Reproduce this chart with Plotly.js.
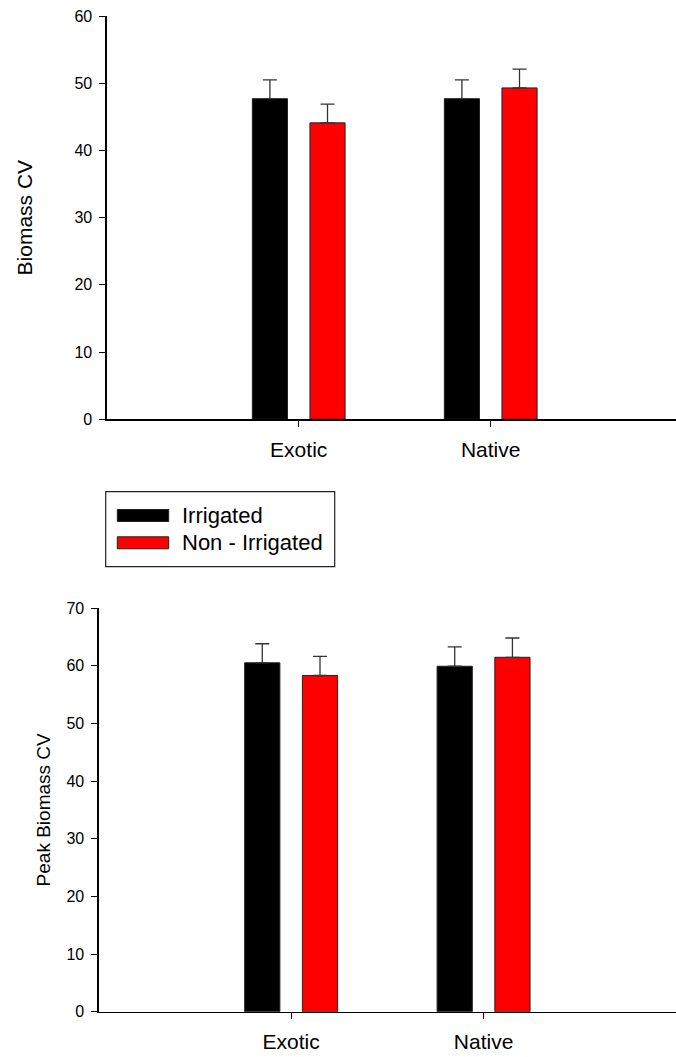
<!DOCTYPE html>
<html>
<head>
<meta charset="utf-8">
<script src="https://cdn.plot.ly/plotly-3.0.1.min.js"></script>
<style>
  html, body { margin: 0; padding: 0; background: #fff; }
  #chart { width: 676px; height: 1057px; }
</style>
</head>
<body>
<div id="chart"></div>
<script>
// ---- Data ----
const categories = ['Exotic', 'Native'];
const seriesNames = ['Irrigated', 'Non - Irrigated'];
const seriesColors = ['#000000', '#ff0000'];

// Top panel: Biomass CV
const biomassIrrigated = [47.7, 47.7];
const biomassIrrigatedErr = [2.8, 2.8];
const biomassNonIrrigated = [44.1, 49.3];
const biomassNonIrrigatedErr = [2.8, 2.8];

// Bottom panel: Peak Biomass CV
const peakIrrigated = [60.5, 59.9];
const peakIrrigatedErr = [3.3, 3.35];
const peakNonIrrigated = [58.3, 61.45];
const peakNonIrrigatedErr = [3.3, 3.35];

const yTitles = ['Biomass CV', 'Peak Biomass CV'];

// ---- Traces ----
const FONT = 'Liberation Sans, Arial, Helvetica, sans-serif';
function barTrace(name, color, y, err, xa, ya) {
  return {
    type: 'bar', name: name, x: categories, y: y,
    xaxis: xa, yaxis: ya, showlegend: false,
    marker: { color: color, line: { color: '#222', width: 1 } },
    error_y: { type: 'data', array: err, arrayminus: err.map(() => 0), symmetric: false,
               color: '#333', thickness: 1.3, width: 7 },
    hoverinfo: 'x+y+name'
  };
}

const data = [
  barTrace(seriesNames[0], seriesColors[0], biomassIrrigated, biomassIrrigatedErr, 'x', 'y'),
  barTrace(seriesNames[1], seriesColors[1], biomassNonIrrigated, biomassNonIrrigatedErr, 'x', 'y'),
  barTrace(seriesNames[0], seriesColors[0], peakIrrigated, peakIrrigatedErr, 'x2', 'y2'),
  barTrace(seriesNames[1], seriesColors[1], peakNonIrrigated, peakNonIrrigatedErr, 'x2', 'y2')
];

const W = 676, H = 1057;
const xAxisCommon = {
  type: 'category', showline: true, linecolor: '#000', linewidth: 1.3,
  ticks: 'outside', ticklen: 6, tickcolor: '#000', tickwidth: 1,
  showgrid: false, zeroline: false,
  tickfont: { family: FONT, size: 21, color: '#000' },
  ticklabelstandoff: 5
};
const yAxisCommon = {
  showline: true, linecolor: '#000', linewidth: 1.3,
  ticks: 'outside', ticklen: 6, tickcolor: '#000', tickwidth: 1,
  showgrid: false, zeroline: false, dtick: 10,
  tickfont: { family: FONT, size: 16, color: '#000' },
  ticklabelstandoff: 4
};

// ---- Legend (drawn from series names/colours) ----
const legendBox = { x0: 105.7, x1: 334.7, y0: 491.7, y1: 566.7 };
const shapes = [{
  type: 'rect', xref: 'paper', yref: 'paper',
  x0: legendBox.x0 / W, x1: legendBox.x1 / W,
  y0: 1 - legendBox.y1 / H, y1: 1 - legendBox.y0 / H,
  line: { color: '#222', width: 1.2 }, fillcolor: 'rgba(0,0,0,0)'
}];
const annotations = [];
const rowY = [515.5, 542.8];
seriesNames.forEach((nm, i) => {
  shapes.push({
    type: 'rect', xref: 'paper', yref: 'paper',
    x0: 117.3 / W, x1: 168.7 / W,
    y0: 1 - (rowY[i] + 6) / H, y1: 1 - (rowY[i] - 6) / H,
    fillcolor: seriesColors[i], line: { color: '#222', width: 1 }
  });
  annotations.push({
    xref: 'paper', yref: 'paper', x: 180 / W, y: 1 - rowY[i] / H,
    xanchor: 'left', yanchor: 'middle', showarrow: false,
    text: nm, font: { family: FONT, size: 22, color: '#000' }
  });
});

const layout = {
  width: W, height: H,
  margin: { l: 0, r: 0, t: 0, b: 0 },
  paper_bgcolor: '#fff', plot_bgcolor: '#fff',
  font: { family: FONT, color: '#000' },
  barmode: 'group', bargap: 0.4, bargroupgap: 0.39,
  showlegend: false,
  xaxis: Object.assign({}, xAxisCommon, { domain: [106.7 / W, 1], range: [-1, 1.965], anchor: 'y' }),
  yaxis: Object.assign({}, yAxisCommon, { domain: [1 - 419.3 / H, 1 - 16 / H], range: [0, 60], anchor: 'x',
    title: { text: yTitles[0], font: { family: FONT, size: 21, color: '#000' }, standoff: 36 } }),
  xaxis2: Object.assign({}, xAxisCommon, { domain: [98.7 / W, 1], range: [-1, 2.0], anchor: 'y2' }),
  yaxis2: Object.assign({}, yAxisCommon, { domain: [1 - 1011.7 / H, 1 - 608 / H], range: [0, 70], anchor: 'x2',
    title: { text: yTitles[1], font: { family: FONT, size: 19, color: '#000' }, standoff: 10 } }),
  shapes: shapes,
  annotations: annotations
};

Plotly.newPlot('chart', data, layout, { displayModeBar: false, staticPlot: true });
</script>
</body>
</html>
